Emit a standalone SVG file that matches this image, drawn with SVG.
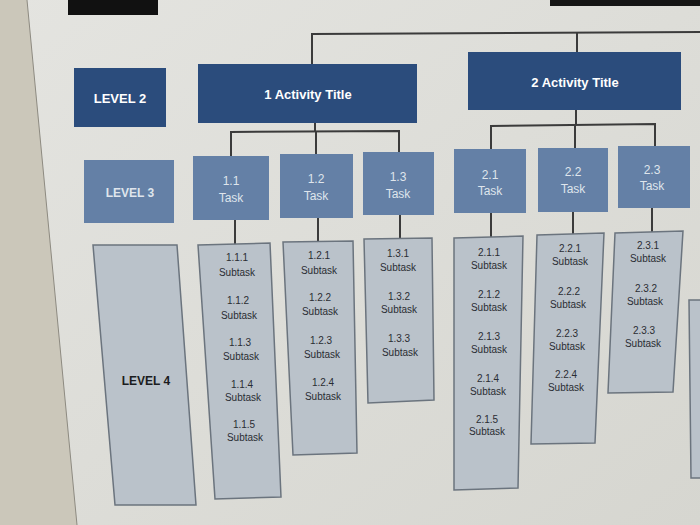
<svg xmlns="http://www.w3.org/2000/svg" width="700" height="525" viewBox="0 0 700 525">
<style>
.l2{fill:#2b4c7c;}
.l3{fill:#6480a6;}
.l4{fill:#bac2ca;stroke:#6b747e;stroke-width:1.5;}
.conn{stroke:#3b3b3b;stroke-width:2;fill:none;}
.tw{font-family:"Liberation Sans",Arial,sans-serif;fill:#ffffff;text-anchor:middle;}
.tb{font-family:"Liberation Sans",Arial,sans-serif;font-weight:bold;font-size:13px;}
.tt{font-family:"Liberation Sans",Arial,sans-serif;font-size:12px;fill:#dfe5ec;text-anchor:middle;}
.ts{font-family:"Liberation Sans",Arial,sans-serif;font-size:10px;fill:#2a2d33;text-anchor:middle;}
.big{font-size:12px;font-weight:bold;fill:#1a1c20;}
</style>
<defs>
<linearGradient id="scr" x1="0" y1="0" x2="1" y2="1">
<stop offset="0" stop-color="#e4e4e0"/>
<stop offset="1" stop-color="#d6d6d0"/>
</linearGradient>
</defs>
<rect x="0" y="0" width="700" height="525" fill="url(#scr)"/>
<polygon points="0,0 27,0 77,525 0,525" fill="#cbc7ba"/>
<line x1="27" y1="0" x2="77" y2="525" stroke="#8d8a80" stroke-width="1"/>
<rect x="68" y="0" width="90" height="15" fill="#111111"/>
<rect x="550" y="0" width="150" height="6" fill="#151515"/>

<g id="connectors">
<polyline class="conn" points="312,64 312,34 700,32"/>
<line class="conn" x1="577" y1="33" x2="577" y2="52"/>
<polyline class="conn" points="315,123 315,131"/>
<polyline class="conn" points="231,156 231,132 399,131 399,152"/>
<line class="conn" x1="316" y1="131" x2="316" y2="154"/>
<polyline class="conn" points="576,110 576,125"/>
<polyline class="conn" points="491,149 491,126 655,124 655,146"/>
<line class="conn" x1="575" y1="125" x2="575" y2="148"/>
<line class="conn" x1="235" y1="220" x2="235" y2="245"/>
<line class="conn" x1="318" y1="218" x2="318" y2="242"/>
<line class="conn" x1="400" y1="215" x2="400" y2="239"/>
<line class="conn" x1="491" y1="213" x2="491" y2="238"/>
<line class="conn" x1="573" y1="212" x2="573" y2="235"/>
<line class="conn" x1="652" y1="208" x2="652" y2="233"/>
</g>

<g id="level2">
<rect class="l2" x="74" y="68" width="92" height="59"/>
<text class="tw tb" x="120" y="103">LEVEL 2</text>
</g>
<g id="act1">
<rect class="l2" x="198" y="64" width="219" height="59"/>
<text class="tw tb" x="308" y="99">1 Activity Title</text>
</g>
<g id="act2">
<rect class="l2" x="468" y="52" width="213" height="58"/>
<text class="tw tb" x="575" y="87">2 Activity Title</text>
</g>

<g id="level3">
<rect class="l3" x="84" y="160" width="90" height="63"/>
<text class="tt" x="130" y="197" font-weight="bold">LEVEL 3</text>
</g>
<g id="t11">
<rect class="l3" x="193" y="156" width="76" height="64"/>
<text class="tt" x="231" y="185">1.1</text><text class="tt" x="231" y="202">Task</text>
</g>
<g id="t12">
<rect class="l3" x="280" y="154" width="73" height="64"/>
<text class="tt" x="316" y="183">1.2</text><text class="tt" x="316" y="200">Task</text>
</g>
<g id="t13">
<rect class="l3" x="363" y="152" width="71" height="63"/>
<text class="tt" x="398" y="181">1.3</text><text class="tt" x="398" y="198">Task</text>
</g>
<g id="t21">
<rect class="l3" x="454" y="149" width="72" height="64"/>
<text class="tt" x="490" y="179">2.1</text><text class="tt" x="490" y="195">Task</text>
</g>
<g id="t22">
<rect class="l3" x="538" y="148" width="70" height="64"/>
<text class="tt" x="573" y="176">2.2</text><text class="tt" x="573" y="193">Task</text>
</g>
<g id="t23">
<rect class="l3" x="618" y="146" width="72" height="62"/>
<text class="tt" x="652" y="174">2.3</text><text class="tt" x="652" y="190">Task</text>
</g>

<g id="level4">
<polygon class="l4" points="93,245 177,245 196,505 115,505"/>
<text class="ts big" x="146" y="385">LEVEL 4</text>
</g>
<g id="s11">
<polygon class="l4" points="198,245 270,243 281,497 215,499"/>
<text class="ts" x="237" y="261">1.1.1</text><text class="ts" x="237" y="276">Subtask</text>
<text class="ts" x="238" y="304">1.1.2</text><text class="ts" x="239" y="319">Subtask</text>
<text class="ts" x="240" y="346">1.1.3</text><text class="ts" x="241" y="360">Subtask</text>
<text class="ts" x="242" y="388">1.1.4</text><text class="ts" x="243" y="401">Subtask</text>
<text class="ts" x="244" y="428">1.1.5</text><text class="ts" x="245" y="441">Subtask</text>
</g>
<g id="s12">
<polygon class="l4" points="283,242 353,241 357,453 293,455"/>
<text class="ts" x="319" y="259">1.2.1</text><text class="ts" x="319" y="274">Subtask</text>
<text class="ts" x="320" y="301">1.2.2</text><text class="ts" x="320" y="315">Subtask</text>
<text class="ts" x="321" y="344">1.2.3</text><text class="ts" x="322" y="358">Subtask</text>
<text class="ts" x="323" y="386">1.2.4</text><text class="ts" x="323" y="400">Subtask</text>
</g>
<g id="s13">
<polygon class="l4" points="364,239 432,238 434,400 368,403"/>
<text class="ts" x="398" y="257">1.3.1</text><text class="ts" x="398" y="271">Subtask</text>
<text class="ts" x="399" y="300">1.3.2</text><text class="ts" x="399" y="313">Subtask</text>
<text class="ts" x="399" y="342">1.3.3</text><text class="ts" x="400" y="356">Subtask</text>
</g>
<g id="s21">
<polygon class="l4" points="454,238 523,236 518,488 454,490"/>
<text class="ts" x="489" y="256">2.1.1</text><text class="ts" x="489" y="269">Subtask</text>
<text class="ts" x="489" y="298">2.1.2</text><text class="ts" x="489" y="311">Subtask</text>
<text class="ts" x="489" y="340">2.1.3</text><text class="ts" x="489" y="353">Subtask</text>
<text class="ts" x="488" y="382">2.1.4</text><text class="ts" x="488" y="395">Subtask</text>
<text class="ts" x="487" y="423">2.1.5</text><text class="ts" x="487" y="435">Subtask</text>
</g>
<g id="s22">
<polygon class="l4" points="537,235 604,233 595,443 531,444"/>
<text class="ts" x="570" y="252">2.2.1</text><text class="ts" x="570" y="265">Subtask</text>
<text class="ts" x="569" y="295">2.2.2</text><text class="ts" x="568" y="308">Subtask</text>
<text class="ts" x="567" y="337">2.2.3</text><text class="ts" x="567" y="350">Subtask</text>
<text class="ts" x="566" y="378">2.2.4</text><text class="ts" x="566" y="391">Subtask</text>
</g>
<g id="s23">
<polygon class="l4" points="615,233 683,231 673,392 608,393"/>
<text class="ts" x="648" y="249">2.3.1</text><text class="ts" x="648" y="262">Subtask</text>
<text class="ts" x="646" y="292">2.3.2</text><text class="ts" x="645" y="305">Subtask</text>
<text class="ts" x="644" y="334">2.3.3</text><text class="ts" x="643" y="347">Subtask</text>
</g>
<g id="partial">
<polygon class="l4" points="689,300 702,300 702,478 691,478"/>
</g>
</svg>
